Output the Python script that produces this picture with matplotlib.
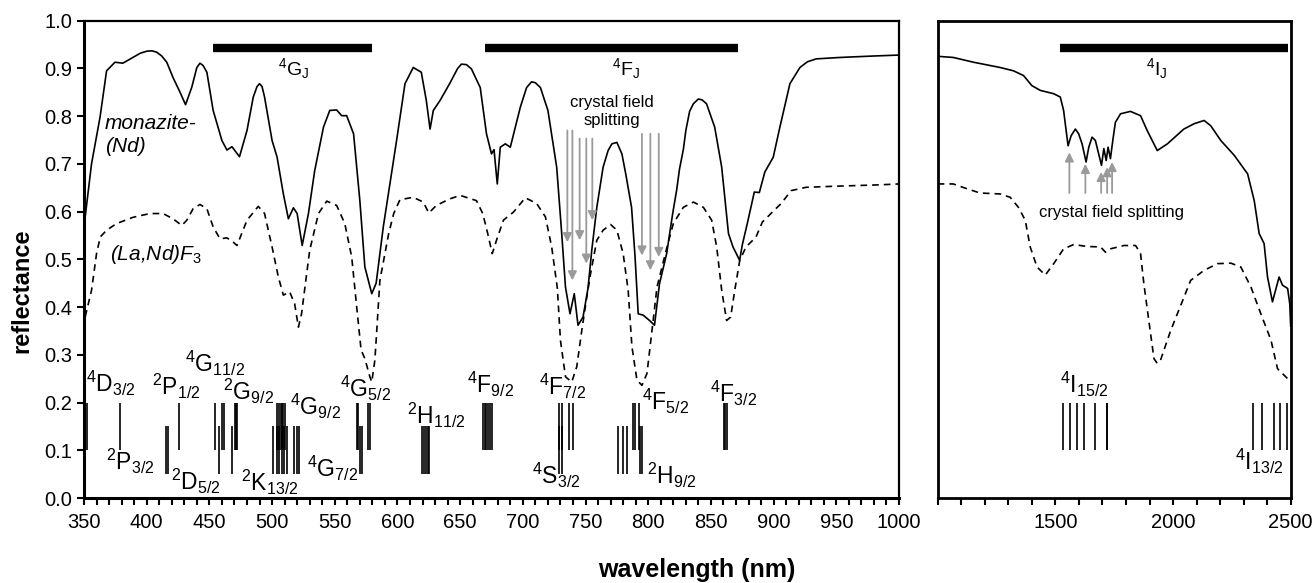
import numpy as np
import matplotlib
matplotlib.use('Agg')
import matplotlib.pyplot as plt
from matplotlib.ticker import MultipleLocator, FormatStrFormatter

plt.rcParams['font.family'] = ['Liberation Sans', 'DejaVu Sans']
plt.rcParams['mathtext.fontset'] = 'custom'
plt.rcParams['mathtext.rm'] = 'Liberation Sans'
plt.rcParams['mathtext.it'] = 'Liberation Sans:italic'
plt.rcParams['mathtext.bf'] = 'Liberation Sans:bold'

# monazite-(Nd), visible part (nm, reflectance)
mon_vis_wl = [350.8, 356, 362.8, 368, 374.7, 381, 389, 395, 400, 404, 408, 412, 416, 421, 426.6,
              431, 436, 440, 442.5, 445, 448, 453, 460, 464, 468, 474, 480, 485, 488, 490, 492,
              494, 500, 504, 509, 513, 517, 520, 524, 529, 534, 541, 546, 551.5, 555.5, 559.5,
              565, 570, 574, 579.5, 583, 588.7, 599.3, 606, 612.6, 619, 623, 626, 628.6, 634, 642,
              648, 651, 655, 659, 666, 671, 675, 677, 679.6, 682, 686, 690, 698, 703, 707, 710,
              714, 720, 727, 731, 734, 737.6, 741, 744, 748, 752, 755, 759, 764, 768, 771, 775,
              779, 782, 786.7, 789.5, 792, 796, 801, 805, 809, 814.7, 819.5, 822.6, 825, 828, 830,
              833, 836, 840, 843, 846.5, 853, 858.6, 864, 867.6, 872.9, 875, 879, 884.6, 888.6,
              893, 899.7, 905, 913, 921, 927, 934, 953, 979.5, 1000]
mon_vis_r = [0.586, 0.70, 0.798, 0.895, 0.913, 0.911, 0.923, 0.932, 0.936, 0.937, 0.934, 0.926,
             0.913, 0.881, 0.850, 0.824, 0.861, 0.902, 0.911, 0.906, 0.892, 0.812, 0.749, 0.729,
             0.736, 0.715, 0.770, 0.840, 0.862, 0.868, 0.862, 0.840, 0.749, 0.714, 0.637, 0.585,
             0.608, 0.596, 0.529, 0.596, 0.686, 0.777, 0.812, 0.813, 0.801, 0.801, 0.763, 0.623,
             0.484, 0.428, 0.450, 0.568, 0.749, 0.868, 0.902, 0.892, 0.833, 0.773, 0.812, 0.833,
             0.870, 0.900, 0.909, 0.908, 0.899, 0.860, 0.763, 0.721, 0.730, 0.658, 0.735, 0.742,
             0.735, 0.819, 0.860, 0.872, 0.870, 0.860, 0.812, 0.693, 0.554, 0.442, 0.386, 0.428,
             0.362, 0.379, 0.440, 0.520, 0.609, 0.693, 0.728, 0.742, 0.745, 0.721, 0.680, 0.609,
             0.505, 0.386, 0.383, 0.372, 0.362, 0.449, 0.512, 0.596, 0.644, 0.690, 0.730, 0.770,
             0.810, 0.826, 0.836, 0.834, 0.826, 0.777, 0.693, 0.554, 0.526, 0.498, 0.530, 0.575,
             0.641, 0.640, 0.683, 0.714, 0.777, 0.868, 0.902, 0.914, 0.920, 0.923, 0.926, 0.928]

# (La,Nd)F3, visible part
lnf_vis_wl = [351, 356, 360, 363, 368, 376, 389, 402.6, 413, 421, 428, 432, 437, 442.5, 448, 453,
              458.5, 464, 469, 472, 480, 489, 494, 500, 505, 509, 514, 518, 521, 523.5, 530, 537,
              543.6, 551.5, 558, 563.5, 567.5, 571, 574, 578, 579.5, 582, 586, 593, 597, 602,
              612.6, 620.6, 625, 631, 642, 650, 663, 668, 672, 675.6, 679, 684.5, 692.5, 702, 711,
              718, 723, 727.5, 730, 734, 739, 743, 747, 751, 754, 759, 764, 770, 775, 780, 784,
              787, 791, 795, 799, 803, 807, 815, 820, 828, 836, 844, 850.6, 854.6, 858.6, 862.5,
              865.7, 869, 873, 878, 886, 891, 899, 906, 914, 926, 947, 983, 1000]
lnf_vis_r = [0.38, 0.435, 0.512, 0.547, 0.561, 0.575, 0.588, 0.596, 0.596, 0.585, 0.571, 0.582,
             0.606, 0.615, 0.606, 0.568, 0.543, 0.545, 0.536, 0.529, 0.582, 0.611, 0.596, 0.526,
             0.463, 0.425, 0.432, 0.407, 0.358, 0.386, 0.519, 0.596, 0.622, 0.613, 0.575, 0.505,
             0.400, 0.310, 0.292, 0.254, 0.243, 0.289, 0.456, 0.554, 0.596, 0.625, 0.630, 0.620,
             0.597, 0.613, 0.627, 0.634, 0.623, 0.596, 0.554, 0.512, 0.540, 0.582, 0.599, 0.629,
             0.617, 0.589, 0.526, 0.440, 0.330, 0.254, 0.243, 0.275, 0.351, 0.421, 0.470, 0.540,
             0.561, 0.573, 0.561, 0.512, 0.435, 0.317, 0.247, 0.236, 0.261, 0.351, 0.442, 0.526,
             0.575, 0.609, 0.620, 0.609, 0.582, 0.526, 0.435, 0.372, 0.379, 0.435, 0.498, 0.526,
             0.547, 0.578, 0.599, 0.617, 0.644, 0.651, 0.653, 0.656, 0.658]

# monazite-(Nd), near infrared part
mon_nir_wl = [1000, 1010, 1066, 1152, 1265, 1322, 1365, 1400, 1436, 1493, 1521, 1535, 1554, 1567,
              1585, 1599, 1613.5, 1630.5, 1642, 1656, 1670, 1684, 1696, 1706, 1716, 1724, 1734,
              1744, 1755, 1777, 1819, 1862, 1890, 1933, 1976, 2046, 2089, 2132, 2160, 2203, 2260,
              2317, 2345, 2366, 2373, 2387, 2401.5, 2422.5, 2450.7, 2465, 2487, 2496, 2500]
mon_nir_r = [0.926, 0.925, 0.923, 0.913, 0.902, 0.895, 0.885, 0.864, 0.854, 0.847, 0.840, 0.812,
             0.738, 0.759, 0.773, 0.763, 0.742, 0.704, 0.735, 0.756, 0.749, 0.721, 0.697, 0.732,
             0.707, 0.735, 0.711, 0.749, 0.787, 0.805, 0.810, 0.801, 0.770, 0.728, 0.742, 0.773,
             0.784, 0.791, 0.780, 0.749, 0.718, 0.679, 0.623, 0.554, 0.547, 0.533, 0.463, 0.411,
             0.463, 0.446, 0.439, 0.407, 0.360]

# (La,Nd)F3, near infrared part
lnf_nir_wl = [1000, 1010, 1066, 1124, 1180, 1265, 1308, 1343, 1372, 1393, 1422, 1457, 1493, 1535,
              1578, 1635, 1692, 1713, 1734, 1791, 1841, 1862, 1876, 1897, 1919, 1933, 1947, 1990,
              2046, 2075, 2132, 2189, 2246, 2288, 2331, 2373, 2416, 2444, 2487, 2500]
lnf_nir_r = [0.658, 0.658, 0.658, 0.648, 0.639, 0.637, 0.630, 0.609, 0.582, 0.526, 0.484, 0.467,
             0.491, 0.522, 0.531, 0.527, 0.526, 0.515, 0.522, 0.529, 0.529, 0.512, 0.449, 0.372,
             0.292, 0.282, 0.289, 0.351, 0.420, 0.456, 0.477, 0.491, 0.492, 0.484, 0.442, 0.386,
             0.331, 0.271, 0.250, 0.248]

# Nd3+ energy levels (nm), upper row 0.1-0.2, lower row 0.05-0.15
levels_upper = [351, 352.5, 378.7, 426, 454.4, 459.8, 461.6, 470.4, 471.3, 472.3, 503.7, 505.5,
                507, 508, 509, 510, 568, 568.8, 576.8, 578, 668, 669.5, 671, 672.5, 674, 675,
                729, 731, 736.8, 740.3, 787.6, 789.4, 792.6, 860.2, 861.2, 862.6]
levels_lower = [415.4, 416.7, 457.9, 468.3, 501, 503.7, 505.8, 508, 509.8, 511.6, 517.7, 519.6,
                521.5, 570, 571.5, 619.5, 621, 622.5, 624, 625.3, 729, 731, 775.6, 779.6, 783.3,
                793.4, 794.7]
levels_nir = [1531, 1561, 1592, 1621, 1670, 1718, 1721, 2340, 2380, 2430, 2455, 2483]

level_names = ['4D_{3/2}', '2P_{1/2}', '4G_{11/2}', '2G_{9/2}', '4G_{9/2}', '4G_{5/2}',
               '2H_{11/2}', '2P_{3/2}', '2D_{5/2}', '2K_{13/2}', '4G_{7/2}', '4F_{9/2}',
               '4F_{7/2}', '4F_{5/2}', '4F_{3/2}', '4S_{3/2}', '2H_{9/2}']
level_label_x = [351.6, 404, 430.5, 461, 514, 554, 608, 367.5, 419, 475, 527.6, 655.7,
                 712.5, 795, 849, 707.6, 799]
level_label_y = [0.222, 0.215, 0.264, 0.205, 0.174, 0.212, 0.156, 0.059, 0.017, 0.015, 0.045,
                 0.219, 0.215, 0.184, 0.201, 0.029, 0.029]
nir_names = ['4I_{15/2}', '4I_{13/2}']
nir_label_x = [1518, 2264]
nir_label_y = [0.219, 0.059]

# multiplet bars
band_names = ['4G_J', '4F_J', '4I_J']
band_start = [453, 669.8, 1521]
band_end = [579.4, 871.4, 2487]
band_label_x = [517, 782, 1929]

# crystal field splitting arrows
cf_vis_wl = [735.5, 739.5, 745.3, 750.6, 755.4, 795, 801.7, 808.4]
cf_vis_tip = [0.536, 0.456, 0.540, 0.491, 0.582, 0.508, 0.477, 0.505]
cf_vis_tail = [0.770, 0.770, 0.753, 0.753, 0.753, 0.763, 0.763, 0.763]
cf_nir_wl = [1559.5, 1627.6, 1694.5, 1720, 1741]
cf_nir_tip = [0.724, 0.700, 0.683, 0.693, 0.704]
cf_nir_tail = [0.639, 0.639, 0.639, 0.639, 0.639]


def term(name):
    # '4G_{9/2}' -> superscript multiplicity + letter + subscript J
    return r'$\mathregular{^{' + name[0] + '}' + name[1:] + '}$'


W, H = 1314, 583
fig = plt.figure(figsize=(W / 100, H / 100), dpi=100)
ax1 = fig.add_axes([84 / W, 1 - 498 / H, (899 - 84) / W, (498 - 20.7) / H])
ax2 = fig.add_axes([937.7 / W, 1 - 498 / H, (1290.7 - 937.7) / W, (498 - 20.7) / H])

arrow_kw = dict(arrowstyle='-|>', color='#9a9a9a', lw=1.3, mutation_scale=13, shrinkA=0, shrinkB=0)
lab_fs = 16.5

# left panel
ax1.plot(mon_vis_wl, mon_vis_r, color='k', lw=1.2)
ax1.plot(lnf_vis_wl, lnf_vis_r, color='k', lw=1.2, ls=(0, (4, 3)))
ax1.vlines(levels_upper, 0.1, 0.2, color='k', lw=1.2)
ax1.vlines(levels_lower, 0.05, 0.15, color='k', lw=1.2)
for name, x, y in zip(level_names, level_label_x, level_label_y):
    ax1.text(x, y, term(name), fontsize=lab_fs, ha='left', va='baseline')
for i in range(2):
    ax1.hlines(0.943, band_start[i], band_end[i], color='k', lw=6)
    ax1.text(band_label_x[i], 0.885, term(band_names[i]), fontsize=14, ha='center', va='baseline')
for x, tip, tail in zip(cf_vis_wl, cf_vis_tip, cf_vis_tail):
    ax1.annotate('', xy=(x, tip), xytext=(x, tail), arrowprops=arrow_kw)
ax1.text(771, 0.81, 'crystal field\nsplitting', fontsize=12, ha='center', va='center',
         linespacing=1.25)
ax1.text(366.7, 0.774, 'monazite-', fontsize=15, style='italic', va='baseline')
ax1.text(366.7, 0.724, '(Nd)', fontsize=15, style='italic', va='baseline')
ax1.text(370.7, 0.498, r'(La,Nd)F$_\mathit{3}$', fontsize=15, style='italic', va='baseline')

ax1.set_xlim(350, 1000)
ax1.set_ylim(0, 1)
ax1.xaxis.set_major_locator(MultipleLocator(50))
ax1.xaxis.set_minor_locator(MultipleLocator(10))
ax1.yaxis.set_major_locator(MultipleLocator(0.1))
ax1.yaxis.set_major_formatter(FormatStrFormatter('%.1f'))
ax1.tick_params(which='both', direction='out', length=5, width=1.5, labelsize=14.5)
ax1.tick_params(axis='x', pad=6)
ax1.spines['left'].set_linewidth(2.2)
ax1.spines['bottom'].set_linewidth(2.2)
ax1.spines['top'].set_linewidth(1.6)
ax1.spines['right'].set_linewidth(1.6)

# right panel
ax2.plot(mon_nir_wl, mon_nir_r, color='k', lw=1.2)
ax2.plot(lnf_nir_wl, lnf_nir_r, color='k', lw=1.2, ls=(0, (4, 3)))
ax2.vlines(levels_nir, 0.1, 0.2, color='k', lw=1.2)
for name, x, y in zip(nir_names, nir_label_x, nir_label_y):
    ax2.text(x, y, term(name), fontsize=lab_fs, ha='left', va='baseline')
ax2.hlines(0.943, band_start[2], band_end[2], color='k', lw=6)
ax2.text(band_label_x[2], 0.885, term(band_names[2]), fontsize=14, ha='center', va='baseline')
for x, tip, tail in zip(cf_nir_wl, cf_nir_tip, cf_nir_tail):
    ax2.annotate('', xy=(x, tip), xytext=(x, tail), arrowprops=arrow_kw)
ax2.text(1737.5, 0.599, 'crystal field splitting', fontsize=12, ha='center', va='center')

ax2.set_xlim(1000, 2500)
ax2.set_ylim(0, 1)
ax2.set_xticks([1500, 2000, 2500])
ax2.xaxis.set_minor_locator(MultipleLocator(100))
ax2.set_yticks([])
ax2.tick_params(which='both', direction='out', length=5, width=1.5, labelsize=14.5)
ax2.tick_params(axis='x', pad=6)
for s in ax2.spines.values():
    s.set_linewidth(2.0)

fig.text(697 / W, 1 - 570 / H, 'wavelength (nm)', fontsize=18, fontweight='bold',
         ha='center', va='center')
fig.text(21.5 / W, 1 - 291 / H, 'reflectance', fontsize=17, fontweight='bold',
         ha='center', va='center', rotation=90)

fig.savefig('out.png', dpi=100)
